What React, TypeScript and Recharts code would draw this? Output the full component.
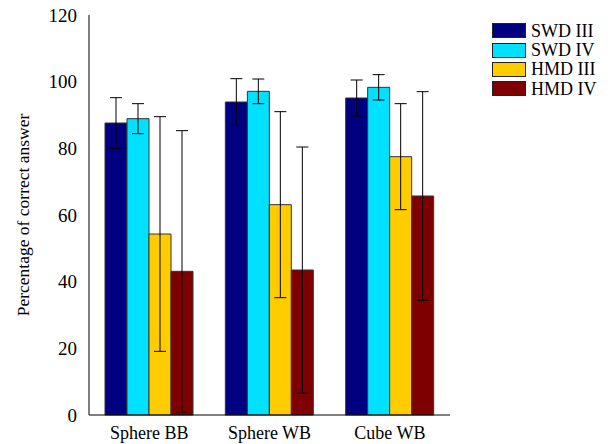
import { BarChart, Bar, XAxis, YAxis, ErrorBar } from 'recharts';

const categories = ['Sphere BB', 'Sphere WB', 'Cube WB'];
const swd3 = [87.6, 93.9, 95.1];
const swd3Err = [7.6, 7.0, 5.4];
const swd4 = [88.9, 97.1, 98.3];
const swd4Err = [4.5, 3.7, 3.8];
const hmd3 = [54.3, 63.1, 77.5];
const hmd3Err = [35.2, 27.9, 15.9];
const hmd4 = [43.1, 43.5, 65.7];
const hmd4Err = [42.2, 36.9, 31.3];
const yTicks = [0, 20, 40, 60, 80, 100, 120];

const series = [
  { key: 'swd3', name: 'SWD III', color: '#000080' },
  { key: 'swd4', name: 'SWD IV', color: '#00E0FF' },
  { key: 'hmd3', name: 'HMD III', color: '#FFCC00' },
  { key: 'hmd4', name: 'HMD IV', color: '#7F0000' },
];

const data = categories.map((c, i) => ({
  name: c,
  swd3: swd3[i],
  swd3Err: swd3Err[i],
  swd4: swd4[i],
  swd4Err: swd4Err[i],
  hmd3: hmd3[i],
  hmd3Err: hmd3Err[i],
  hmd4: hmd4[i],
  hmd4Err: hmd4Err[i],
}));

// only the generic serif resolves to a real serif face here
const font = 'serif';

export default function App() {
  return (
    <div style={{ position: 'fixed', left: 0, top: 0, width: 608, height: 444, background: '#fff', fontFamily: font }}>
      <BarChart
        width={608}
        height={444}
        data={data}
        margin={{ top: 15, right: 158, bottom: 0, left: 29 }}
        barCategoryGap={16}
        barGap={0}
      >
        <XAxis
          dataKey="name"
          height={29}
          tickLine={false}
          axisLine={{ stroke: '#000' }}
          tick={{ fill: '#000', fontSize: 18, fontFamily: font }}
          tickMargin={5}
        />
        <YAxis
          width={60}
          domain={[0, 120]}
          ticks={yTicks}
          tickLine={false}
          axisLine={{ stroke: '#000' }}
          tick={{ fill: '#000', fontSize: 19, fontFamily: font }}
          tickMargin={6}
          label={{
            value: 'Percentage of correct answer',
            angle: -90,
            position: 'insideLeft',
            offset: -6,
            style: { textAnchor: 'middle', fill: '#000', fontSize: 17.5, fontFamily: font },
          }}
        />
        {series.map((s) => (
          <Bar
            key={s.key}
            dataKey={s.key}
            name={s.name}
            fill={s.color}
            stroke="#333"
            strokeWidth={1}
            isAnimationActive={false}
          >
            <ErrorBar dataKey={s.key + 'Err'} width={6} stroke="#000" strokeWidth={1} />
          </Bar>
        ))}
      </BarChart>
      <div style={{ position: 'absolute', left: 492, top: 21 }}>
        {series.map((s) => (
          <div key={s.key} style={{ display: 'flex', alignItems: 'center', height: 19.4 }}>
            <div style={{ width: 32, height: 13, background: s.color, border: '1px solid #222' }} />
            <span style={{ marginLeft: 5, fontSize: 18, color: '#000', lineHeight: '18px' }}>{s.name}</span>
          </div>
        ))}
      </div>
    </div>
  );
}
